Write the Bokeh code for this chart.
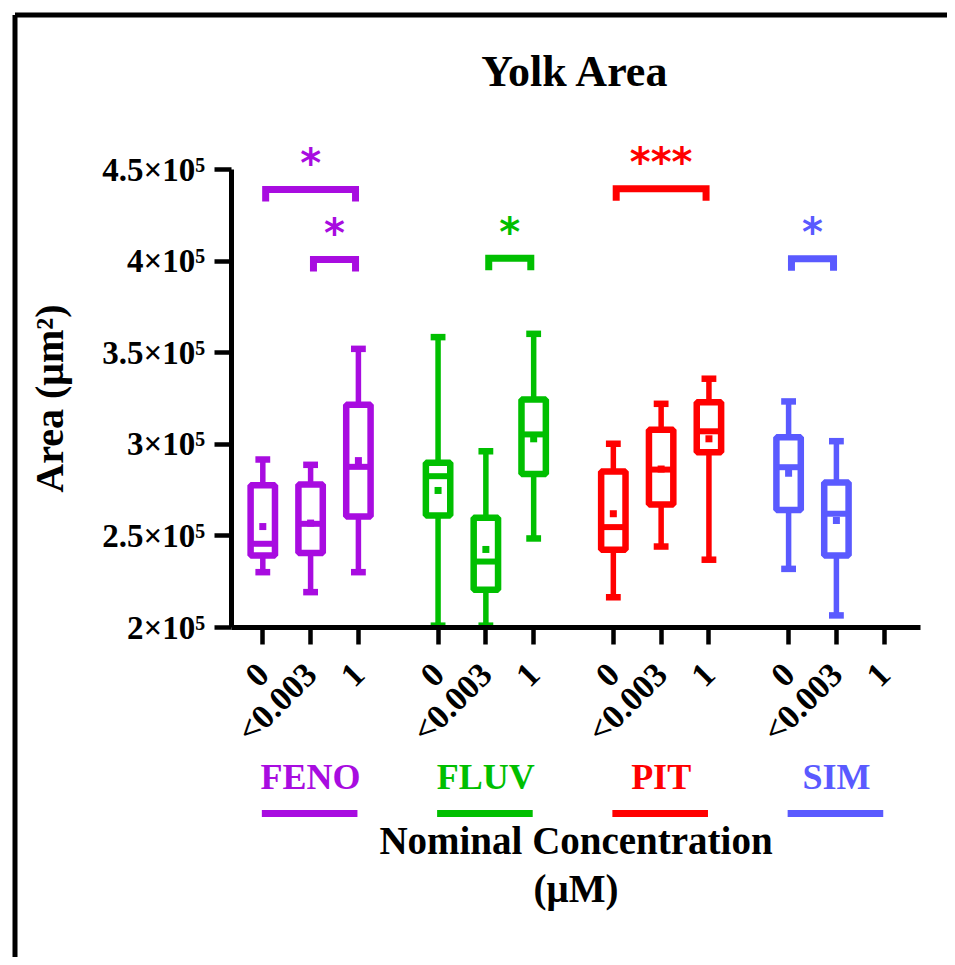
import math
from bokeh.plotting import figure
from bokeh.models import LinearAxis, FixedTicker, Range1d
from bokeh.core.properties import value
from bokeh.embed import file_html
from bokeh.resources import INLINE

# ---------------- data ----------------
drugs = ["FENO", "FLUV", "PIT", "SIM"]
drug_colors = ["#A80CE0", "#00BF00", "#FF0000", "#5A5AFF"]
conc_labels = ["0", "<0.003", "1"]

y_ticks = [200000, 250000, 300000, 350000, 400000, 450000]
y_tick_labels = ["2×10⁵", "2.5×10⁵", "3×10⁵", "3.5×10⁵", "4×10⁵", "4.5×10⁵"]

# box-and-whisker statistics (µm²); SIM at 1 µM has no data
box_drug = ["FENO", "FENO", "FENO", "FLUV", "FLUV", "FLUV", "PIT", "PIT", "PIT", "SIM", "SIM"]
box_conc = ["0", "<0.003", "1", "0", "<0.003", "1", "0", "<0.003", "1", "0", "<0.003"]
whisk_lo = [230200, 219300, 230200, 201000, 201000, 248600, 216500, 244200, 237000, 232000, 206600]
q1       = [239300, 240600, 260600, 261100, 220600, 283800, 242400, 267100, 295700, 264200, 239300]
median   = [245700, 256600, 287700, 282600, 236000, 305400, 254800, 286200, 307100, 287500, 262100]
q3       = [277700, 278000, 321600, 289900, 259900, 324500, 285200, 307900, 323000, 303900, 279100]
whisk_hi = [291700, 288800, 352100, 358500, 296200, 360300, 300300, 322100, 335800, 323400, 301700]
mean_val = [255100, 257000, 291100, 274800, 242600, 303000, 262100, 286500, 303000, 284200, 258400]

# significance brackets
sig_drug  = ["FENO", "FENO", "FLUV", "PIT", "SIM"]
sig_from  = ["0", "<0.003", "<0.003", "0", "0"]
sig_to    = ["1", "1", "1", "1", "<0.003"]
sig_level = [439100, 400900, 401600, 439500, 401300]
sig_text  = ["*", "*", "*", "***", "*"]

# ---------------- layout helpers ----------------
W, H = 947, 957
PX_X = 1 / 47.8          # slot units per pixel
PX_Y = 100000 / 183.2    # value units per pixel
ORIGIN_X = 262.3         # canvas x of first slot
ORIGIN_Y = 627.0         # canvas y of 2e5
GROUP_STEP = 11 / 3

def cx(px):   # canvas x -> data x
    return (px - ORIGIN_X) * PX_X

def cy(py):   # canvas y -> data y
    return 200000 + (ORIGIN_Y - py) * PX_Y

def slot(drug, conc):
    return drugs.index(drug) * GROUP_STEP + conc_labels.index(conc)

color_of = dict(zip(drugs, drug_colors))

p = figure(width=W, height=H, output_backend="svg", toolbar_location=None,
           x_axis_type=None, y_axis_type=None, min_border=0,
           x_range=Range1d(cx(0), cx(W)), y_range=Range1d(cy(H), cy(0)))
p.grid.visible = False
p.outline_line_color = None
p.background_fill_color = "white"
p.border_fill_color = "white"

FONT = "Liberation Serif"

# axes
x_left = cx(230.7)
x_right = cx(920.0)
tick_pos = [g * GROUP_STEP + k for g in range(len(drugs)) for k in range(len(conc_labels))]
xaxis = LinearAxis(fixed_location=200000, bounds=(x_left, x_right),
                   ticker=FixedTicker(ticks=tick_pos),
                   major_label_overrides={t: conc_labels[i % 3] for i, t in enumerate(tick_pos)})
xaxis.major_label_orientation = math.pi / 4
xaxis.axis_label = "Nominal Concentration\n(μM)"
yaxis = LinearAxis(fixed_location=x_left, bounds=(200000, 450000),
                   ticker=FixedTicker(ticks=y_ticks),
                   major_label_overrides=dict(zip(y_ticks, y_tick_labels)))
yaxis.axis_label = "Area (μm²)"
for ax in (xaxis, yaxis):
    ax.axis_line_width = 5
    ax.axis_line_color = "black"
    ax.major_tick_line_width = 4.5
    ax.major_tick_out = 17
    ax.major_tick_in = 0
    ax.minor_tick_line_color = None
    ax.major_label_text_font = FONT
    ax.major_label_text_font_style = "bold"
    ax.major_label_text_color = "black"
    ax.axis_label_text_font = FONT
    ax.axis_label_text_font_style = "bold"
    ax.axis_label_text_color = "black"
xaxis.major_label_text_font_size = "34px"
xaxis.major_label_standoff = 24
xaxis.axis_label_text_font_size = "39px"
xaxis.axis_label_text_line_height = 1.1
xaxis.axis_label_standoff = 54
yaxis.major_label_text_font_size = "33px"
yaxis.major_label_standoff = 9
yaxis.axis_label_text_font_size = "40px"
yaxis.axis_label_standoff = 28
p.add_layout(xaxis, "below")
p.add_layout(yaxis, "left")

# outer frame (top and left edges)
fx, fy = cx(14.5), cy(14.5)
p.segment(x0=[fx, fx], y0=[fy, fy], x1=[cx(W + 20), fx], y1=[fy, cy(H + 20)],
          line_color="black", line_width=5)

# boxes
bx = [slot(d, c) for d, c in zip(box_drug, box_conc)]
bc = [color_of[d] for d in box_drug]
BOX_W = 0.51
CAP_W = 0.31
p.segment(x0=bx, y0=q3, x1=bx, y1=whisk_hi, line_color=bc, line_width=5.5)
p.segment(x0=bx, y0=q1, x1=bx, y1=whisk_lo, line_color=bc, line_width=5.5)
p.segment(x0=[x - CAP_W / 2 for x in bx], y0=whisk_hi, x1=[x + CAP_W / 2 for x in bx], y1=whisk_hi,
          line_color=bc, line_width=6.5)
p.segment(x0=[x - CAP_W / 2 for x in bx], y0=whisk_lo, x1=[x + CAP_W / 2 for x in bx], y1=whisk_lo,
          line_color=bc, line_width=6.5)
p.vbar(x=bx, width=BOX_W, bottom=q1, top=q3, fill_color="white", line_color=bc, line_width=6.5)
p.segment(x0=[x - BOX_W / 2 for x in bx], y0=median, x1=[x + BOX_W / 2 for x in bx], y1=median,
          line_color=bc, line_width=6)
p.scatter(x=bx, y=mean_val, marker="square", size=7, fill_color=bc, line_color=None)

# significance brackets
LEG = 12 * PX_Y
INSET = 0.06
xs, ys, sc, tx, ty = [], [], [], [], []
for d, a, b, lvl, t in zip(sig_drug, sig_from, sig_to, sig_level, sig_text):
    xa, xb = slot(d, a) + INSET, slot(d, b) - INSET
    xs.append([xa, xa, xb, xb])
    ys.append([lvl - LEG, lvl, lvl, lvl - LEG])
    sc.append(color_of[d])
    tx.append((xa + xb) / 2)
    ty.append(lvl + 26.5 * PX_Y)
p.multi_line(xs=xs, ys=ys, line_color=sc, line_width=7, line_join="miter")
p.text(x=tx, y=ty, text=sig_text, text_color=sc, text_font=value("DejaVu Sans"),
       text_font_style="bold", text_font_size="40px", text_align="center",
       text_baseline="alphabetic")

# title
p.text(x=[cx(575)], y=[cy(71)], text=["Yolk Area"], text_color="black",
       text_font=value(FONT), text_font_style="bold", text_font_size="44px",
       text_align="center", text_baseline="alphabetic")

# drug group labels and underlines
gx = [g * GROUP_STEP + 1 for g in range(len(drugs))]
p.text(x=gx, y=[cy(776.5)] * len(drugs), text=drugs, text_color=drug_colors,
       text_font=value(FONT), text_font_style="bold", text_font_size="36px",
       text_align="center", text_baseline="alphabetic")
p.segment(x0=[g * GROUP_STEP - 0.02 for g in range(len(drugs))], y0=[cy(813)] * len(drugs),
          x1=[g * GROUP_STEP + 1.98 for g in range(len(drugs))], y1=[cy(813)] * len(drugs),
          line_color=drug_colors, line_width=7)

open("out.html", "w").write(file_html(p, INLINE))
